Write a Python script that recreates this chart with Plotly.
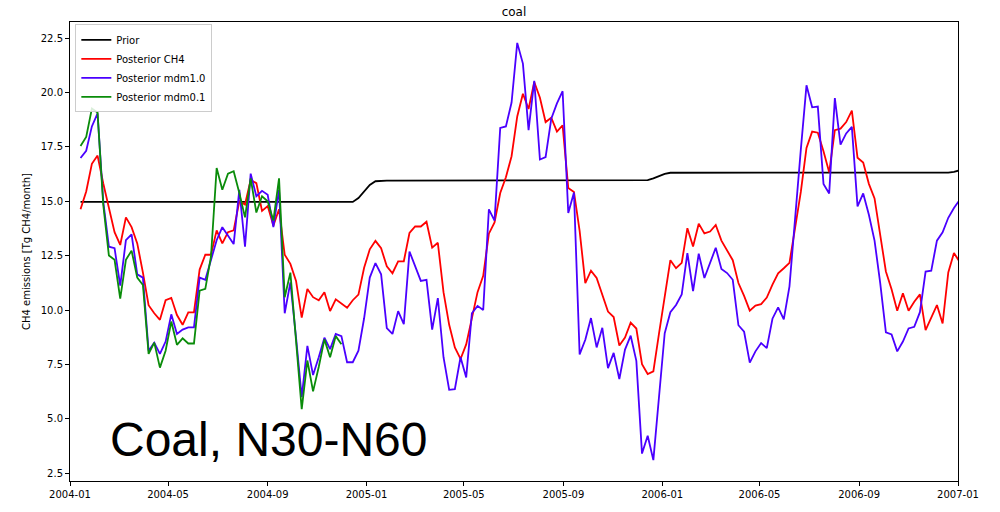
import pandas as pd
import plotly.graph_objects as go

# Weekly posterior time series, coal sector, N30-N60 (Tg CH4/month)
dates = pd.date_range("2004-01-14", periods=156, freq="7D")

prior = [
    14.97, 14.97, 14.97, 14.97, 14.97, 14.97, 14.97, 14.97, 14.97, 14.97,
    14.97, 14.97, 14.97, 14.97, 14.97, 14.97, 14.97, 14.97, 14.97, 14.97,
    14.97, 14.97, 14.97, 14.97, 14.97, 14.97, 14.97, 14.97, 14.97, 14.97,
    14.97, 14.97, 14.97, 14.97, 14.97, 14.97, 14.97, 14.97, 14.97, 14.97,
    14.97, 14.97, 14.97, 14.97, 14.97, 14.97, 14.97, 14.97, 14.97, 15.15,
    15.45, 15.75, 15.92, 15.95, 15.95, 15.95, 15.95, 15.95, 15.95, 15.95,
    15.95, 15.95, 15.95, 15.95, 15.95, 15.95, 15.95, 15.95, 15.95, 15.95,
    15.95, 15.95, 15.95, 15.95, 15.95, 15.95, 15.95, 15.95, 15.95, 15.95,
    15.95, 15.95, 15.95, 15.95, 15.95, 15.95, 15.95, 15.95, 15.95, 15.95,
    15.95, 15.95, 15.95, 15.95, 15.95, 15.95, 15.95, 15.95, 15.95, 15.95,
    15.97, 16.05, 16.16, 16.26, 16.31, 16.31, 16.31, 16.31, 16.31, 16.31,
    16.31, 16.31, 16.31, 16.31, 16.31, 16.31, 16.31, 16.31, 16.31, 16.31,
    16.31, 16.31, 16.31, 16.31, 16.31, 16.31, 16.31, 16.31, 16.31, 16.31,
    16.31, 16.31, 16.31, 16.31, 16.31, 16.31, 16.31, 16.31, 16.31, 16.31,
    16.31, 16.31, 16.31, 16.31, 16.31, 16.31, 16.31, 16.31, 16.31, 16.31,
    16.31, 16.31, 16.31, 16.32, 16.35, 16.42,
]

posterior_ch4 = [
    14.63, 15.45, 16.72, 17.10, 15.83, 14.70, 13.58, 12.99, 14.26, 13.81,
    13.06, 11.72, 10.22, 9.85, 9.55, 10.45, 10.56, 9.77, 9.32, 9.89,
    9.89, 11.86, 12.54, 12.54, 13.66, 13.06, 13.58, 13.66, 15.00, 14.85,
    15.98, 15.83, 14.56, 14.78, 13.88, 14.63, 12.54, 12.12, 11.34, 9.65,
    10.97, 10.59, 10.45, 10.82, 9.95, 10.49, 10.30, 10.10, 10.45, 10.71,
    11.94, 12.79, 13.18, 12.84, 12.01, 11.69, 12.24, 12.24, 13.54, 13.84,
    13.84, 14.06, 12.87, 13.09, 10.82, 9.32, 8.28, 7.75, 8.42, 9.62,
    10.82, 11.57, 13.51, 14.03, 15.38, 16.10, 17.07, 18.90, 19.94, 19.24,
    20.48, 19.76, 18.64, 18.84, 18.20, 18.49, 15.61, 15.43, 13.64, 11.24,
    11.81, 11.47, 10.65, 9.93, 9.68, 8.37, 8.73, 9.42, 9.15, 7.51,
    7.06, 7.18, 8.93, 10.65, 12.29, 11.92, 12.17, 13.76, 12.92, 13.97,
    13.52, 13.61, 13.91, 13.19, 12.74, 12.29, 11.24, 10.65, 9.97, 10.20,
    10.27, 10.57, 11.17, 11.69, 11.92, 12.17, 13.79, 15.43, 17.45, 18.20,
    18.15, 17.30, 16.33, 18.27, 18.34, 18.64, 19.17, 17.00, 16.78, 15.80,
    15.13, 13.49, 11.77, 10.95, 9.97, 10.77, 9.97, 10.38, 10.72, 9.08,
    9.63, 10.23, 9.38, 11.73, 12.62, 12.22,
]

posterior_mdm10 = [
    16.99, 17.32, 18.44, 19.04, 15.00, 12.91, 12.84, 11.12, 13.21, 13.48,
    11.64, 11.49, 8.13, 8.50, 7.98, 8.55, 9.80, 8.90, 9.10, 9.20,
    9.20, 11.49, 11.39, 12.31, 13.21, 13.81, 13.43, 13.03, 15.53, 12.91,
    16.27, 15.23, 15.48, 15.30, 13.81, 15.53, 9.85, 11.27, 8.73, 6.00,
    8.35, 7.01, 7.83, 8.73, 8.20, 8.90, 8.80, 7.60, 7.60, 8.13,
    9.62, 11.49, 12.16, 11.64, 9.17, 8.90, 9.95, 9.35, 12.69, 12.01,
    11.34, 11.39, 9.10, 10.55, 7.83, 6.33, 6.36, 7.83, 6.90, 9.85,
    10.19, 10.00, 14.63, 14.11, 18.37, 18.44, 19.54, 22.28, 21.33, 18.27,
    20.54, 16.92, 17.03, 18.79, 19.50, 20.06, 14.46, 15.40, 7.96, 8.63,
    9.63, 8.28, 9.18, 7.33, 8.03, 6.83, 8.18, 8.82, 7.66, 3.40,
    4.22, 3.10, 5.94, 8.93, 9.90, 10.23, 10.72, 12.62, 10.87, 12.59,
    11.47, 12.17, 12.86, 11.89, 11.70, 11.39, 9.30, 9.00, 7.58, 8.10,
    8.48, 8.25, 9.60, 10.12, 9.57, 11.09, 14.38, 17.37, 20.33, 19.32,
    19.35, 15.80, 15.36, 19.74, 17.60, 18.12, 18.42, 14.76, 15.36, 14.38,
    13.19, 11.24, 8.97, 8.88, 8.10, 8.55, 9.15, 9.23, 9.90, 11.77,
    11.81, 13.19, 13.57, 14.24, 14.69, 15.06,
]

posterior_mdm01 = [
    17.54, 17.96, 19.26, 19.08, 14.85, 12.51, 12.31, 10.52, 12.31, 12.73,
    11.49, 11.15, 7.98, 8.50, 7.35, 8.13, 9.47, 8.40, 8.70, 8.46,
    8.46, 10.89, 10.97, 12.46, 16.53, 15.53, 16.27, 16.38, 15.38, 14.26,
    16.05, 14.48, 15.23, 15.00, 14.11, 16.05, 10.59, 11.72, 8.58, 5.44,
    7.68, 6.26, 7.38, 8.65, 7.83, 8.80, 8.43,
]

series = [
    ("Prior", prior, "#000000"),
    ("Posterior CH4", posterior_ch4, "#ff0000"),
    ("Posterior mdm1.0", posterior_mdm10, "#4a00ff"),
    ("Posterior mdm0.1", posterior_mdm01, "#0a8c0a"),
]

fig = go.Figure()
for name, values, color in series:
    fig.add_trace(go.Scatter(
        x=dates[:len(values)], y=values, mode="lines", name=name,
        line=dict(color=color, width=1.8),
    ))

axis_common = dict(
    showline=True, linecolor="#000000", linewidth=1, mirror=True,
    ticks="outside", ticklen=4, tickcolor="#000000", showgrid=False,
    zeroline=False, tickfont=dict(family="DejaVu Sans", size=10, color="#000000"),
)

fig.update_layout(
    width=1000, height=512,
    margin=dict(l=70, r=42, t=22, b=18),
    paper_bgcolor="white", plot_bgcolor="white",
    title=dict(text="coal", x=0.514, xanchor="center", y=0.977, yanchor="middle",
               font=dict(family="DejaVu Sans", size=12, color="#000000")),
    xaxis=dict(
        range=["2004-01-01", "2007-01-01"],
        tickvals=["2004-01-01", "2004-05-01", "2004-09-01", "2005-01-01", "2005-05-01",
                  "2005-09-01", "2006-01-01", "2006-05-01", "2006-09-01", "2007-01-01"],
        tickformat="%Y-%m",
        **axis_common,
    ),
    yaxis=dict(
        range=[2.14, 23.24],
        tickvals=[2.5, 5.0, 7.5, 10.0, 12.5, 15.0, 17.5, 20.0, 22.5],
        tickformat=".1f",
        title=dict(text="CH4 emissions [Tg CH4/month]", standoff=8,
                   font=dict(family="DejaVu Sans", size=10, color="#000000")),
        **axis_common,
    ),
    legend=dict(
        x=0.006, y=0.995, xanchor="left", yanchor="top",
        bgcolor="rgba(255,255,255,0.85)", bordercolor="#cccccc", borderwidth=1,
        font=dict(family="DejaVu Sans", size=10, color="#000000"),
        itemwidth=30, tracegroupgap=0,
    ),
    showlegend=True,
)

fig.add_annotation(
    text="Coal, N30-N60", xref="paper", yref="paper",
    x=0.043, y=0.09, xanchor="left", yanchor="middle", showarrow=False,
    font=dict(family="Liberation Sans", size=48, color="#000000"),
)

fig.write_html("out.html")
